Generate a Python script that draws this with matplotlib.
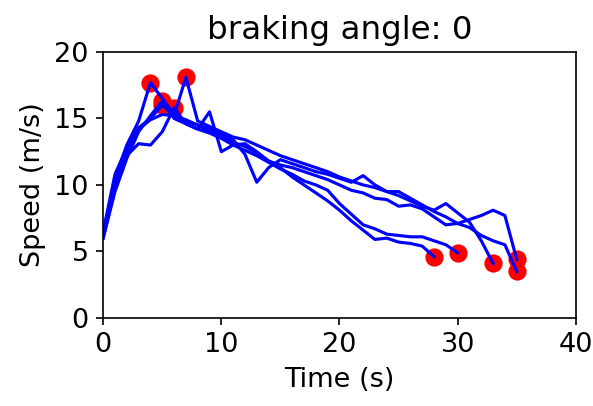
import matplotlib.pyplot as plt

# speed traces, one value per second
speed_1 = [6.2, 10.5, 13.0, 14.8, 17.7, 16.5, 15.3, 14.8, 14.5, 14.0, 13.6, 13.2, 12.9, 12.4,
           11.8, 11.3, 10.6, 10.0, 9.4, 8.8, 8.1, 7.3, 6.6, 5.9, 6.0, 5.7, 5.6, 5.4, 4.6]
speed_2 = [6.0, 9.5, 12.0, 14.0, 15.2, 16.3, 15.0, 14.6, 14.2, 13.9, 13.5, 13.0, 12.6, 12.2,
           11.7, 11.2, 10.8, 10.3, 10.0, 9.6, 8.6, 7.8, 7.0, 6.7, 6.3, 6.2, 6.1, 6.1, 5.8, 5.5, 4.9]
speed_3 = [6.5, 10.8, 12.8, 14.2, 14.9, 15.3, 15.2, 18.1, 14.8, 14.4, 14.0, 13.6, 13.4, 13.0,
           12.6, 12.2, 11.9, 11.6, 11.3, 11.0, 10.6, 10.3, 10.0, 9.8, 9.5, 9.2, 8.8, 8.4, 8.1,
           8.6, 7.9, 7.2, 5.8, 4.1]
speed_4 = [6.0, 9.8, 12.2, 13.1, 13.0, 14.0, 15.8, 14.6, 14.2, 15.5, 12.5, 13.0, 13.1, 12.5,
           11.8, 11.5, 11.3, 11.0, 10.7, 10.4, 10.0, 9.6, 9.4, 9.0, 8.9, 8.4, 8.5, 8.2, 7.6,
           7.0, 7.1, 7.4, 7.7, 8.1, 7.7, 4.4]
speed_5 = [6.3, 10.2, 12.5, 14.3, 15.0, 16.0, 15.2, 14.9, 14.5, 14.2, 13.8, 13.4, 12.3, 10.2,
           11.3, 11.9, 11.6, 11.3, 11.0, 10.8, 10.5, 10.2, 10.7, 10.0, 9.5, 9.5, 9.0, 8.5, 8.0,
           7.6, 7.1, 6.8, 6.2, 5.8, 5.5, 3.5]
runs = [speed_1, speed_2, speed_3, speed_4, speed_5]
braking_angle = 0


def do_plot():
    plt.rcParams['font.size'] = 13
    fig, ax = plt.subplots(figsize=(593 / 150, 406 / 150), dpi=150)
    fig.subplots_adjust(left=0.174, right=0.971, top=0.872, bottom=0.217)

    for speed in runs:
        t = list(range(len(speed)))
        i_max = speed.index(max(speed))
        ax.plot(t, speed, color='b', linewidth=1.5, zorder=2)
        ax.scatter([t[i_max], t[-1]], [speed[i_max], speed[-1]], color='r', s=60, zorder=1)

    ax.set_xlim(0, 40)
    ax.set_ylim(0, 20)
    ax.set_xticks([0, 10, 20, 30, 40])
    ax.set_yticks([0, 5, 10, 15, 20])
    ax.set_xlabel("Time (s)")
    ax.set_ylabel("Speed (m/s)")
    ax.set_title("braking angle: %d" % braking_angle)

    plt.savefig("out.png", dpi=150)


if __name__ == "__main__":
    do_plot()
